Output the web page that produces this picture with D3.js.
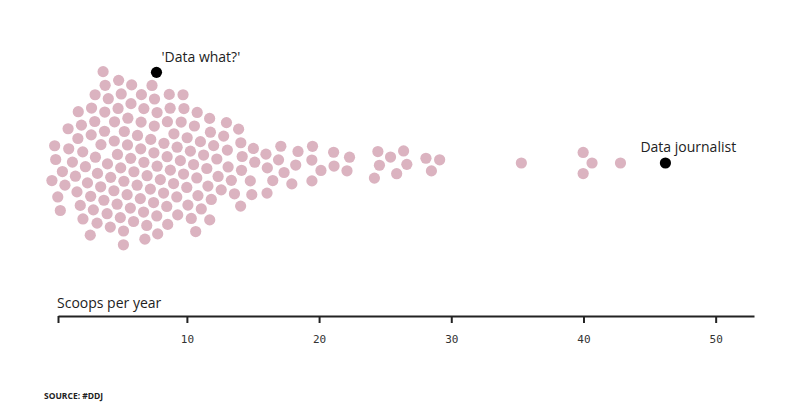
<!DOCTYPE html>
<html>
<head>
<meta charset="utf-8">
<script src="https://cdn.jsdelivr.net/npm/d3@7"></script>
<style>
  body { margin: 0; background: #fff; }
  svg { display: block; }
  .label { font-family: "Open Sans", sans-serif; font-size: 14px; fill: #222; }
  .axis text { font-family: "DejaVu Sans Mono", monospace; font-size: 11px; fill: #333; }
  .axis path, .axis line { stroke: #222; stroke-width: 2px; }
  .source { font-family: "Open Sans", sans-serif; font-size: 8.5px; font-weight: 700; fill: #222; }
</style>
</head>
<body>
<div id="chart"></div>
<script>
var scoops = [
    7.4,
    5.7, 6.9,
    4.3, 5.2, 6.3, 7.1, 8.2, 9.1, 10.1,
    3.7, 4.8, 5.7, 6.8, 7.7, 8.7, 9.5, 10.6, 11.6,
    2.2, 3.3, 4.3, 5.2, 6.3, 7.1, 8.2, 9.0, 9.9, 11.0, 12.2,
    1.7, 2.8, 3.7, 4.8, 5.7, 6.8, 7.7, 8.7, 9.5, 10.4, 11.5, 13.0,
    0.0, 1.0, 2.2, 3.3, 4.2, 5.2, 6.3, 7.1, 8.2, 9.1, 10.1, 11.1, 12.6, 13.6, 14.7, 15.9,
    0.4, 1.6, 2.8, 3.7, 4.8, 5.7, 6.8, 7.7, 8.7, 9.6, 10.6, 11.7, 13.3, 14.3, 15.3, 16.4, 17.4, 18.4,
    0.0, 1.1, 2.2, 3.3, 4.2, 5.2, 6.6, 7.4, 8.5, 9.3, 10.4, 11.6, 13.8, 15.0, 16.1, 17.1, 18.2,
    0.4, 1.6, 2.8, 3.7, 4.8, 5.7, 6.8, 7.7, 8.7, 9.5, 10.6, 11.7, 12.9, 13.9, 14.9, 15.9, 16.9, 17.9,
    0.1, 1.3, 2.4, 3.3, 4.3, 5.3, 6.3, 7.2, 8.3, 9.1, 10.1, 11.2, 12.1, 13.0, 14.0,
    1.9, 2.9, 3.9, 4.9, 5.9, 7.0, 7.8, 8.9, 9.7, 10.8, 12.3, 14.2,
    1.6, 2.6, 3.5, 4.6, 5.5, 6.6, 7.4, 8.5, 12.3,
    2.2, 3.2, 4.2, 5.2, 5.8, 6.8,
    2.9, 3.8, 4.9,
    5.1,
    19.5, 19.5, 19.5, 20.1, 21.1, 21.1, 22.1, 22.3,
    24.2, 24.5, 24.6, 25.3, 25.9, 26.4, 26.6,
    28.1, 28.5, 29.1,
    35.3, 40.0, 40.0, 40.6, 42.8
];

// the two people called out
var highlightNames = ["'Data what?'", "Data journalist"];
var highlightScoops = [7.7, 46.2];

var tickValues = [10, 20, 30, 40, 50];
var axisTitle = "Scoops per year";
var sourceText = "SOURCE: #DDJ";

var width = 788,
    height = 420,
    radius = 5.6,
    gap = 6.9,          // collision radius
    centerY = 163,
    axisY = 316;

var svg = d3.select("#chart")
    .append("svg")
    .attr("width", width)
    .attr("height", height);

var xScale = d3.scaleLinear().domain([0.25, 52.9]).range([58, 754]);

var nodes = scoops.map(function (d) { return { value: d, name: null }; });
nodes.push({ value: highlightScoops[1], name: highlightNames[1] });

nodes.forEach(function (d) {
    d.x = xScale(d.value);
    d.y = centerY;
});

var simulation = d3.forceSimulation(nodes)
    .alphaDecay(0.006)
    .force("x", d3.forceX(function (d) { return xScale(d.value); }).strength(1))
    .force("y", d3.forceY(centerY).strength(0.035))
    .force("collide", d3.forceCollide(gap).iterations(3))
    .stop();

for (var i = 0; i < 1000; ++i) simulation.tick();

// 'Data what?' gets stacked on top of its column
var callout = { value: highlightScoops[0], name: highlightNames[0], top: true };
callout.x = xScale(callout.value);
callout.y = centerY;
var moved = true;
while (moved) {
    moved = false;
    nodes.forEach(function (n) {
        var dx = n.x - callout.x, dy = n.y - callout.y;
        if (dx * dx + dy * dy < 4 * gap * gap - 0.01) {
            callout.y = n.y - Math.sqrt(4 * gap * gap - dx * dx);
            moved = true;
        }
    });
}
nodes.push(callout);

// pink first, black on top
svg.append("g")
    .selectAll("circle")
    .data(nodes.filter(function (d) { return !d.name; }))
    .enter().append("circle")
    .attr("cx", function (d) { return d.x; })
    .attr("cy", function (d) { return d.y; })
    .attr("r", radius)
    .attr("fill", "#dbb3c0");

var hl = svg.append("g")
    .selectAll("g")
    .data(nodes.filter(function (d) { return d.name; }))
    .enter().append("g");

hl.append("circle")
    .attr("cx", function (d) { return d.x; })
    .attr("cy", function (d) { return d.y; })
    .attr("r", radius)
    .attr("fill", "#000");

hl.append("text")
    .attr("class", "label")
    .attr("x", function (d) { return d.top ? d.x + 5 : d.x - 25; })
    .attr("y", function (d) { return d.top ? d.y - 10 : d.y - 11; })
    .text(function (d) { return d.name; });

// x axis, ticks hanging below the line
var start = xScale.domain()[0];
svg.append("g")
    .attr("class", "axis")
    .attr("transform", "translate(0," + axisY + ")")
    .call(d3.axisBottom(xScale)
        .tickValues([start].concat(tickValues))
        .tickFormat(function (d) { return d === start ? "" : d; })
        .tickSize(7)
        .tickSizeOuter(0)
        .tickPadding(12));

svg.append("text")
    .attr("class", "label")
    .attr("x", xScale.range()[0] - 1)
    .attr("y", axisY - 8)
    .text(axisTitle);

svg.append("text")
    .attr("class", "source")
    .attr("x", 44)
    .attr("y", 399)
    .text(sourceText);
</script>
</body>
</html>
